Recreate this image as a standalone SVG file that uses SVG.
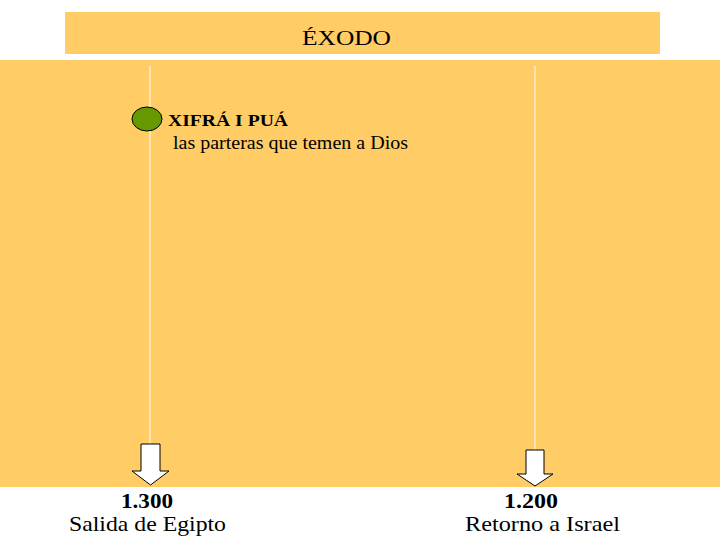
<svg xmlns="http://www.w3.org/2000/svg" width="720" height="540" viewBox="0 0 720 540">
<style>
.bg{fill:#FFCC66}
.t{font-family:"Liberation Serif",serif;fill:#000}
.ln{stroke:#FFF5E0;stroke-width:1.2}
.arr{fill:#fff;stroke:#000;stroke-width:1}
</style>
<rect width="720" height="540" fill="#fff"/>
<g id="title">
<rect class="bg" x="65" y="12" width="595" height="42"/>
<text class="t" x="302" y="45" font-size="21" textLength="89" lengthAdjust="spacingAndGlyphs">ÉXODO</text>
</g>
<rect class="bg" x="0" y="60" width="720" height="427"/>
<g id="connectors">
<line class="ln" x1="150" y1="66" x2="150" y2="444"/>
<line class="ln" x1="535" y1="66" x2="535" y2="450"/>
</g>
<g id="event1">
<ellipse cx="147" cy="119" rx="15" ry="12" fill="#669900" stroke="#000" stroke-width="1"/>
<text class="t" x="168" y="126" font-size="17" font-weight="bold" textLength="120" lengthAdjust="spacingAndGlyphs">XIFRÁ I PUÁ</text>
<text class="t" x="173" y="149" font-size="18" textLength="235" lengthAdjust="spacingAndGlyphs">las parteras que temen a Dios</text>
</g>
<g id="start">
<polygon class="arr" points="141,444 160,444 160,471 169,471 150.5,485 132,471 141,471"/>
<text class="t" x="121" y="508" font-size="22" font-weight="bold" textLength="52" lengthAdjust="spacingAndGlyphs">1.300</text>
<text class="t" x="69" y="531" font-size="21" textLength="157" lengthAdjust="spacingAndGlyphs">Salida de Egipto</text>
</g>
<g id="end">
<polygon class="arr" points="526,450 544,450 544,474 553,474 535,486 517,474 526,474"/>
<text class="t" x="504" y="508" font-size="22" font-weight="bold" textLength="54" lengthAdjust="spacingAndGlyphs">1.200</text>
<text class="t" x="465" y="531" font-size="21" textLength="155" lengthAdjust="spacingAndGlyphs">Retorno a Israel</text>
</g>
</svg>
